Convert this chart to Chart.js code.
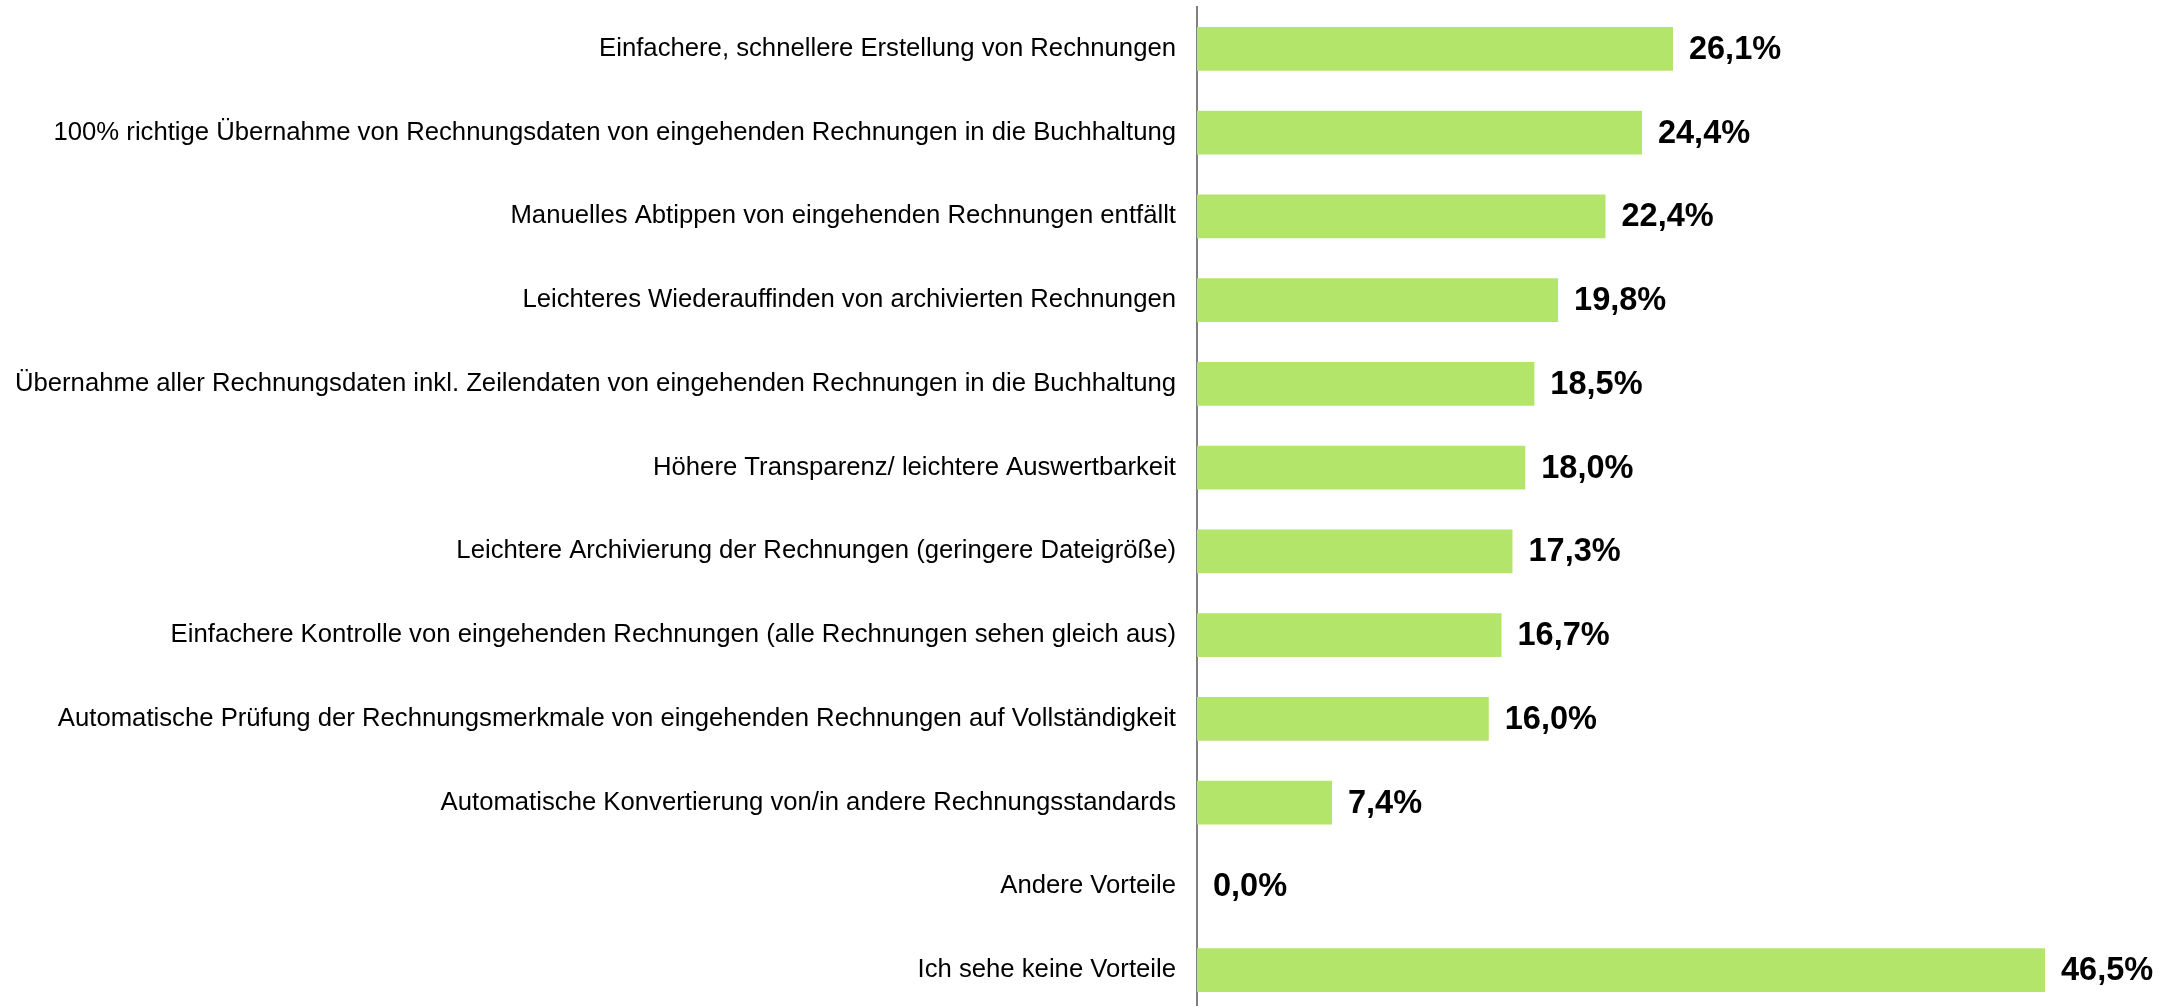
<!DOCTYPE html>
<html>
<head>
<meta charset="utf-8">
<script src="https://cdn.jsdelivr.net/npm/chart.js@4.4.1/dist/chart.umd.min.js"></script>
<style>
html,body{margin:0;padding:0;background:#fff;overflow:hidden;}
#wrap{width:2169px;height:1012px;position:relative;}
</style>
</head>
<body>
<div id="wrap"><canvas id="c"></canvas></div>
<script>
const categories = [
  "Einfachere, schnellere Erstellung von Rechnungen",
  "100% richtige Übernahme von Rechnungsdaten von eingehenden Rechnungen in die Buchhaltung",
  "Manuelles Abtippen von eingehenden Rechnungen entfällt",
  "Leichteres Wiederauffinden von archivierten Rechnungen",
  "Übernahme aller Rechnungsdaten inkl. Zeilendaten von eingehenden Rechnungen in die Buchhaltung",
  "Höhere Transparenz/ leichtere Auswertbarkeit",
  "Leichtere Archivierung der Rechnungen (geringere Dateigröße)",
  "Einfachere Kontrolle von eingehenden Rechnungen (alle Rechnungen sehen gleich aus)",
  "Automatische Prüfung der Rechnungsmerkmale von eingehenden Rechnungen auf Vollständigkeit",
  "Automatische Konvertierung von/in andere Rechnungsstandards",
  "Andere Vorteile",
  "Ich sehe keine Vorteile"
];
const values = [26.1, 24.4, 22.4, 19.8, 18.5, 18.0, 17.3, 16.7, 16.0, 7.4, 0.0, 46.5];

const valueLabels = {
  id: 'valueLabels',
  afterDatasetsDraw(chart) {
    const ctx = chart.ctx;
    const meta = chart.getDatasetMeta(0);
    ctx.save();
    ctx.font = 'bold 32.5px "Liberation Sans", Arial, sans-serif';
    ctx.fillStyle = '#000';
    ctx.textAlign = 'left';
    ctx.textBaseline = 'middle';
    meta.data.forEach((bar, i) => {
      const txt = values[i].toFixed(1).replace('.', ',') + '%';
      ctx.fillText(txt, bar.x + 16, bar.y + 1);
    });
    ctx.restore();
  }
};

new Chart(document.getElementById('c'), {
  type: 'bar',
  data: {
    labels: categories,
    datasets: [{
      data: values,
      backgroundColor: '#B3E56B',
      borderWidth: 0,
      barPercentage: 0.525,
      categoryPercentage: 1.0
    }]
  },
  options: {
    indexAxis: 'y',
    responsive: true,
    maintainAspectRatio: false,
    animation: false,
    layout: { padding: { top: 7, bottom: 0, left: 0, right: 0 } },
    plugins: {
      legend: { display: false },
      tooltip: { enabled: false },
      title: { display: false }
    },
    scales: {
      x: {
        display: false,
        min: 0,
        max: 53.3
      },
      y: {
        afterFit(scale) {
          scale.width = 1197;
          scale.paddingTop = 0;
          scale.paddingBottom = 0;
        },
        grid: { display: false, drawTicks: false },
        border: { display: true, color: '#808080', width: 2 },
        ticks: {
          color: '#000',
          padding: 21,
          autoSkip: false,
          font: { family: '"Liberation Sans", Arial, sans-serif', size: 25.7 }
        }
      }
    }
  },
  plugins: [valueLabels]
});
</script>
</body>
</html>
